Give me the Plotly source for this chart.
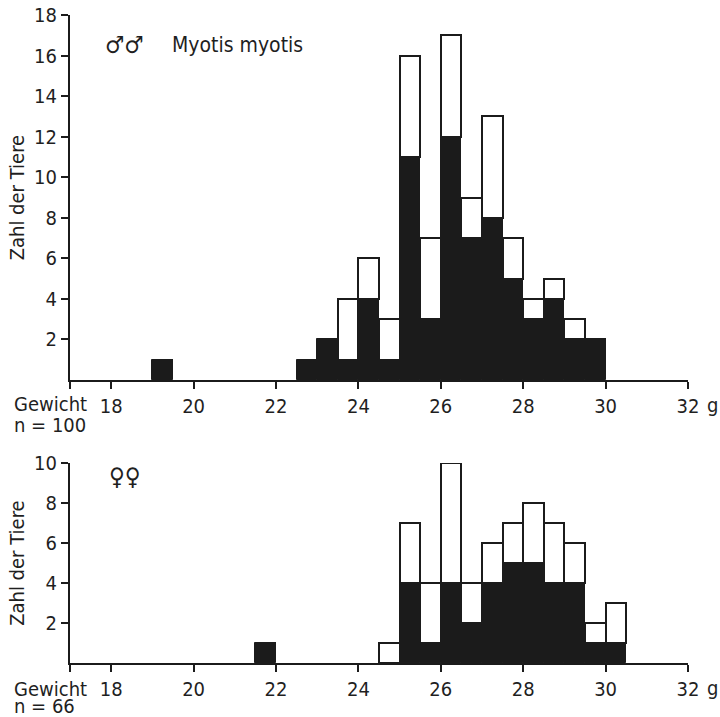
import plotly.graph_objects as go

# ---- data (weight classes of 0.5 g, lower bound) ----
male_bins = [19.0, 22.5, 23.0, 23.5, 24.0, 24.5, 25.0, 25.5, 26.0, 26.5, 27.0, 27.5, 28.0, 28.5, 29.0, 29.5]
male_black = [1, 1, 2, 1, 4, 1, 11, 3, 12, 7, 8, 5, 3, 4, 2, 2]
male_total = [1, 1, 2, 4, 6, 3, 16, 7, 17, 9, 13, 7, 4, 5, 3, 2]

female_bins = [21.5, 24.5, 25.0, 25.5, 26.0, 26.5, 27.0, 27.5, 28.0, 28.5, 29.0, 29.5, 30.0]
female_black = [1, 0, 4, 1, 4, 2, 4, 5, 5, 4, 4, 1, 1]
female_total = [1, 1, 7, 4, 10, 4, 6, 7, 8, 7, 6, 2, 3]

x_ticks = [18, 20, 22, 24, 26, 28, 30, 32]
y_ticks_top = [2, 4, 6, 8, 10, 12, 14, 16, 18]
y_ticks_bottom = [2, 4, 6, 8, 10]

BIN_W = 0.5
INK = "#1b1b1b"
TXT = "#1f1f1f"
FONT = "DejaVu Sans Condensed, DejaVu Sans, sans-serif"

fig = go.Figure()


def add_panel(bins, black, total, xa, ya):
    centers = [b + BIN_W / 2 for b in bins]
    fig.add_trace(go.Bar(
        x=centers, y=black, base=[0] * len(black), width=BIN_W,
        marker=dict(color=INK, line=dict(color=INK, width=1)),
        xaxis=xa, yaxis=ya, hoverinfo="skip", showlegend=False))
    fig.add_trace(go.Bar(
        x=centers, y=[t - b for t, b in zip(total, black)], base=black, width=BIN_W,
        marker=dict(color="white", line=dict(color=INK, width=2)),
        xaxis=xa, yaxis=ya, hoverinfo="skip", showlegend=False))


add_panel(male_bins, male_black, male_total, "x", "y")
add_panel(female_bins, female_black, female_total, "x2", "y2")

xcommon = dict(
    range=[17, 32], showgrid=False, zeroline=False, showline=True, automargin=False,
    linecolor=INK, linewidth=2, ticks="outside", ticklen=7, tickwidth=2,
    tickcolor=INK, tickvals=[17] + x_ticks, ticktext=[""] + [str(v) for v in x_ticks],
    tickfont=dict(family=FONT, size=20, color=TXT),
)
ycommon = dict(
    showgrid=False, zeroline=False, showline=True, automargin=False,
    linecolor=INK, linewidth=2,
    ticks="outside", ticklen=7, tickwidth=2, tickcolor=INK,
    tickfont=dict(family=FONT, size=20, color=TXT),
)

fig.update_layout(
    width=720, height=717,
    margin=dict(l=70, r=32, t=15, b=54, autoexpand=False),
    paper_bgcolor="white", plot_bgcolor="white",
    barmode="overlay", bargap=0,
    xaxis=dict(domain=[0, 1], anchor="y", **xcommon),
    yaxis=dict(domain=[0.4367, 1], anchor="x", range=[0, 18], tickvals=y_ticks_top, **ycommon),
    xaxis2=dict(domain=[0, 1], anchor="y2", **xcommon),
    yaxis2=dict(domain=[0, 0.3086], anchor="x2", range=[0, 10], tickvals=y_ticks_bottom, **ycommon),
    font=dict(family=FONT, color=TXT),
)

ann_font = dict(family=FONT, size=20, color=TXT)


def labels(xr, yr, n_text, sym, sym_y, g_shift, n_shift, title=None):
    fig.add_annotation(xref="paper", yref=yr, x=-0.094, y=0, xanchor="left", yanchor="middle",
                       yshift=g_shift, text="Gewicht", showarrow=False, font=ann_font)
    fig.add_annotation(xref="paper", yref=yr, x=-0.094, y=0, xanchor="left", yanchor="middle",
                       yshift=n_shift, text=n_text, showarrow=False, font=ann_font)
    fig.add_annotation(xref=xr, yref=yr, x=32, y=0, xanchor="center", yanchor="middle",
                       xshift=24, yshift=-25, text="g", showarrow=False, font=ann_font)
    fig.add_annotation(xref="paper", yref=yr + " domain", x=-0.086, y=0.5, xanchor="center",
                       yanchor="middle", textangle=-90, text="Zahl der Tiere", showarrow=False,
                       font=ann_font)
    fig.add_annotation(xref=xr, yref=yr, x=18.33, y=sym_y, xanchor="center", yanchor="middle",
                       text=sym, showarrow=False, font=dict(family=FONT, size=24, color=TXT))
    if title:
        fig.add_annotation(xref=xr, yref=yr, x=19.43, y=sym_y, xanchor="left", yanchor="middle",
                           text=title, showarrow=False, font=dict(family=FONT, size=21, color=TXT))


labels("x", "y", "n = 100", "\u2642\u2642", 16.5, -24, -45, "Myotis myotis")
labels("x2", "y2", "n = 66", "\u2640\u2640", 9.3, -26, -43)

# remove the default 8px body margin so the figure fills the window exactly
fig.write_html("out.html", config={"displayModeBar": False},
               post_script="document.body.style.margin='0';")
